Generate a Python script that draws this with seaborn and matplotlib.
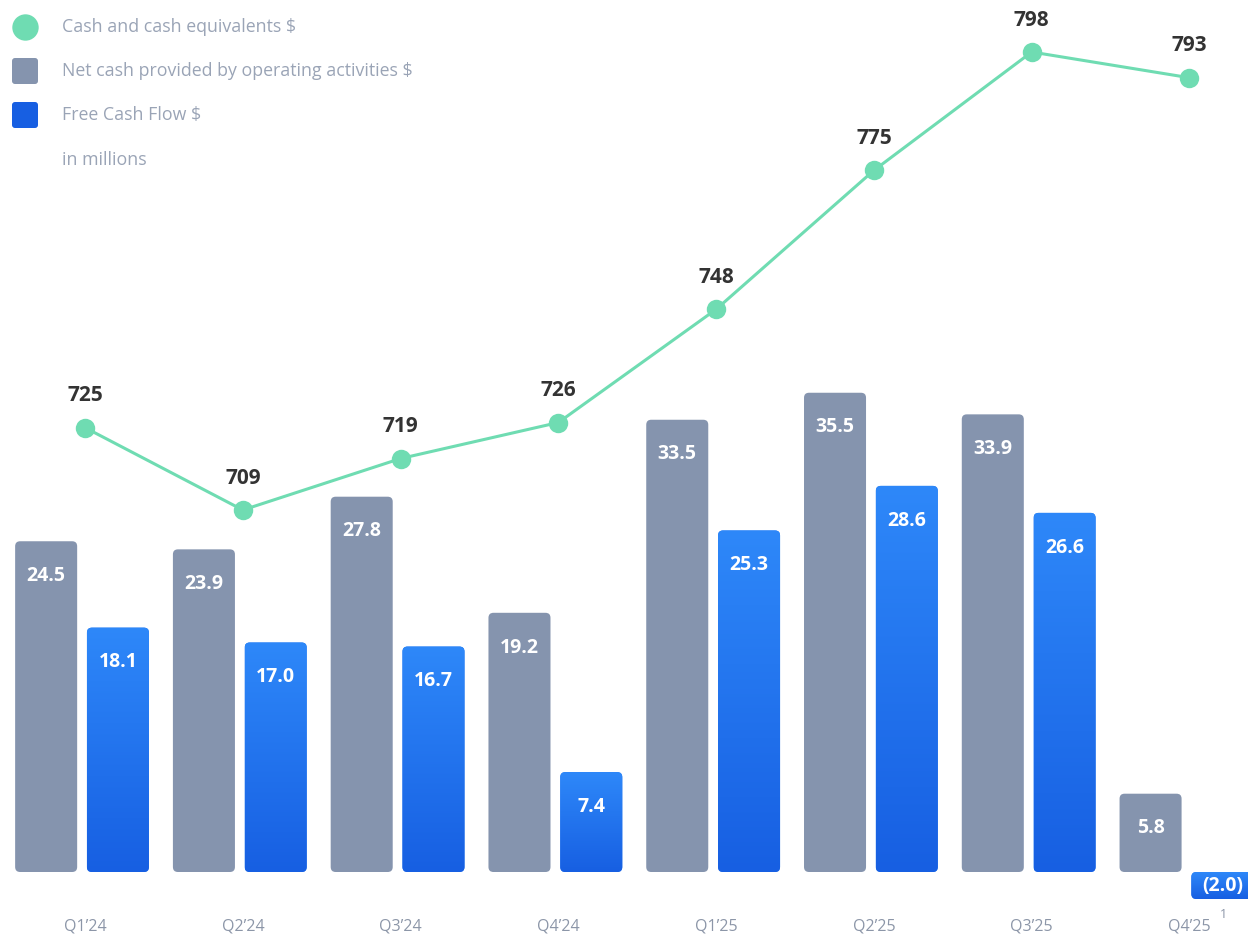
import numpy as np
import pandas as pd
import matplotlib
matplotlib.use("Agg")
import matplotlib.pyplot as plt
import seaborn as sns
from matplotlib.patches import FancyBboxPatch
from matplotlib.lines import Line2D
from matplotlib.colors import LinearSegmentedColormap, to_rgb
from matplotlib.transforms import ScaledTranslation

# Quarterly figures, in millions
quarters = ["Q1’24", "Q2’24", "Q3’24", "Q4’24", "Q1’25", "Q2’25", "Q3’25", "Q4’25"]
cash_equivalents = [725, 709, 719, 726, 748, 775, 798, 793]
operating_cash = [24.5, 23.9, 27.8, 19.2, 33.5, 35.5, 33.9, 5.8]
free_cash_flow = [18.1, 17.0, 16.7, 7.4, 25.3, 28.6, 26.6, -2.0]

series_names = ["Net cash provided by operating activities $", "Free Cash Flow $"]
line_name = "Cash and cash equivalents $"

GREEN = "#6fdcb2"
GRAY = "#8594ae"
BLUE = "#2478f0"
BLUE_TOP = "#2e88f9"
BLUE_BOTTOM = "#175fe2"
LABEL_GRAY = "#9aa4b6"
TICK_GRAY = "#8c96a8"
DARK = "#333333"

sns.set_theme(style="white")
plt.rcParams["font.family"] = ["Open Sans", "DejaVu Sans"]

W, H = 1248, 936
fig = plt.figure(figsize=(W / 100, H / 100), dpi=100)
axes_bottom_px = 905
rect = [0, (H - axes_bottom_px) / H, 1, axes_bottom_px / H]
ax = fig.add_axes(rect)

df = pd.DataFrame({
    "quarter": quarters * 2,
    "value": operating_cash + free_cash_flow,
    "series": [series_names[0]] * len(quarters) + [series_names[1]] * len(quarters),
})

sns.barplot(data=df, x="quarter", y="value", hue="series", order=quarters,
            hue_order=series_names, palette=[GRAY, BLUE], saturation=1,
            width=0.91, gap=0.136, legend=False, ax=ax)

# scales
x_left, x_right = -0.52, 7.39
zero_px, px_per_unit = 872, 13.5
y_top = zero_px / px_per_unit
y_bot = -(axes_bottom_px - zero_px) / px_per_unit
px_per_x = W / (x_right - x_left)
radius_px = 5
rsize = radius_px / px_per_x
maspect = px_per_x / px_per_unit

grad_cmap = LinearSegmentedColormap.from_list("fcf", [BLUE_BOTTOM, BLUE_TOP])
gradient = np.linspace(0, 1, 256).reshape(-1, 1)
gray_rgb = np.array(to_rgb(GRAY))

bars = list(ax.patches)
for p in bars:
    x0, w = p.get_x(), p.get_width()
    y0, h = p.get_y(), p.get_height()
    yb, hh = min(y0, y0 + h), abs(h)
    is_gray = np.allclose(np.array(p.get_facecolor()[:3]), gray_rgb, atol=0.02)
    p.remove()
    box = FancyBboxPatch((x0, yb), w, hh,
                         boxstyle=f"round,pad=0,rounding_size={rsize}",
                         mutation_aspect=maspect, linewidth=0,
                         facecolor=GRAY if is_gray else BLUE, zorder=2)
    ax.add_patch(box)
    if not is_gray:
        im = ax.imshow(gradient, extent=[x0, x0 + w, yb, yb + hh], origin="lower",
                       cmap=grad_cmap, aspect="auto", zorder=2.5, interpolation="bicubic")
        im.set_clip_path(box)
    cx = x0 + w / 2
    if h >= 0:
        ax.annotate(f"{h:.1f}", (cx, yb + hh), xytext=(0, -25), textcoords="offset points",
                    ha="center", va="center", color="white", fontsize=14,
                    fontweight="bold", zorder=4)
    else:
        ax.annotate(f"({abs(h):.1f})", (cx, yb + hh / 2), ha="center", va="center",
                    color="white", fontsize=14, fontweight="bold", zorder=4)

ax.set_xlim(x_left, x_right)
ax.set_ylim(y_bot, y_top)
ax.set_xticks(range(len(quarters)), quarters)
ax.tick_params(axis="x", length=0, pad=10, labelsize=11.5, labelcolor=TICK_GRAY)
shift = ScaledTranslation(3 / 100, 0, fig.dpi_scale_trans)
for lbl in ax.get_xticklabels():
    lbl.set_transform(lbl.get_transform() + shift)
ax.set_yticks([])
ax.set_xlabel("")
ax.set_ylabel("")
for s in ax.spines.values():
    s.set_visible(False)

# cash line on its own overlay axes, centred slightly right of the bar pairs
ax2 = fig.add_axes(rect, label="cash")
ax2.patch.set_visible(False)
line_df = pd.DataFrame({"pos": np.arange(len(quarters)), "cash": cash_equivalents})
sns.lineplot(data=line_df, x="pos", y="cash", color=GREEN, linewidth=2.2, marker="o",
             markersize=14, markeredgewidth=0, ax=ax2)
for i, v in enumerate(cash_equivalents):
    ax2.annotate(f"{v}", (i, v), xytext=(0, 23), textcoords="offset points",
                 ha="center", va="center", color=DARK, fontsize=15, fontweight="bold")
px_per_cash = 5.146
c_top = 709 + 510 / px_per_cash
c_bot = 709 - (axes_bottom_px - 510) / px_per_cash
ax2.set_ylim(c_bot, c_top)
ax2.set_xlim(x_left - 3 / px_per_x, x_right - 3 / px_per_x)
ax2.set_xticks([])
ax2.set_yticks([])
ax2.set_ylabel("")
ax2.set_xlabel("")
for s in ax2.spines.values():
    s.set_visible(False)

# footnote marker on the last quarter
fig.text(1223 / W, 1 - 914 / H, "1", fontsize=9, color=TICK_GRAY, ha="center", va="center")

# legend
def fx(px):
    return px / W

def fy(py):
    return 1 - py / H

fig.add_artist(Line2D([fx(25)], [fy(27)], marker="o", markersize=19, markeredgewidth=0,
                      color=GREEN, linestyle="none", transform=fig.transFigure))
for yc, col in [(71, GRAY), (115, BLUE_BOTTOM)]:
    fig.patches.append(FancyBboxPatch((fx(12), fy(yc + 13)), 26 / W, 26 / H,
                                      boxstyle=f"round,pad=0,rounding_size={3 / W}",
                                      mutation_aspect=W / H, transform=fig.transFigure,
                                      facecolor=col, edgecolor="none"))
for yc, txt in [(27, line_name), (71, series_names[0]), (115, series_names[1]), (160, "in millions")]:
    fig.text(fx(62), fy(yc), txt, fontsize=12.8, color=LABEL_GRAY, ha="left", va="center")

fig.savefig("out.png", dpi=100, facecolor="white")
